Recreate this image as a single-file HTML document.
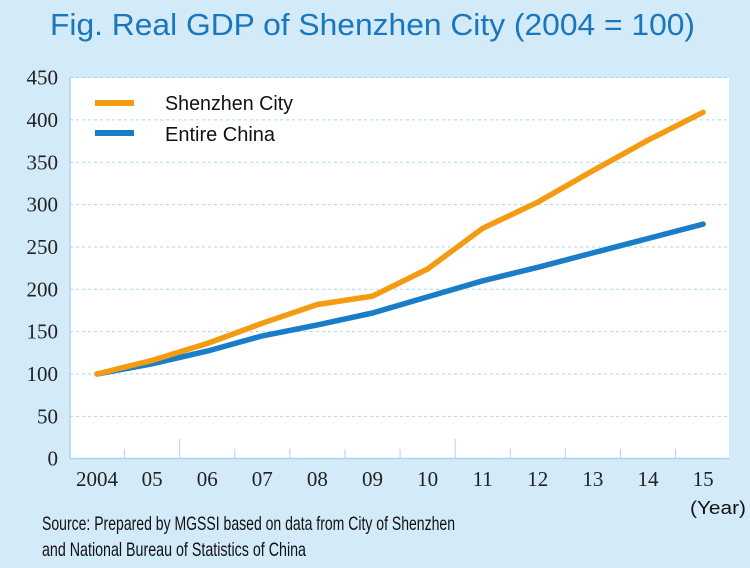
<!DOCTYPE html>
<html><head><meta charset="utf-8"><style>
html,body{margin:0;padding:0;background:#d3eaf8;}
svg{display:block;}
</style></head><body>
<svg id="chart" width="750" height="568" xmlns="http://www.w3.org/2000/svg">
<rect x="0" y="0" width="750" height="568" fill="#d3eaf8"/>
<text x="50" y="35" font-family="Liberation Sans, sans-serif" font-size="31" fill="#1877bd" textLength="645" lengthAdjust="spacingAndGlyphs">Fig. Real GDP of Shenzhen City  (2004 = 100)</text>
<rect x="70" y="78" width="659" height="380" fill="#ffffff"/>
<g id="grid"></g>
<g id="yticks"></g>
<g id="xticks"></g>
<g id="series"></g>
<line x1="70" y1="458.5" x2="729" y2="458.5" stroke="#a9d6f0" stroke-width="1.5"/>
<line x1="70" y1="78" x2="70" y2="458.5" stroke="#a9d6f0" stroke-width="1.5"/>
<g>
<line x1="95" y1="103" x2="134" y2="103" stroke="#f39c12" stroke-width="6"/>
<text x="165" y="110" font-family="Liberation Sans, sans-serif" font-size="20" fill="#111" textLength="128" lengthAdjust="spacingAndGlyphs">Shenzhen City</text>
<line x1="95" y1="133" x2="134" y2="133" stroke="#1a7dc7" stroke-width="6"/>
<text x="165" y="141" font-family="Liberation Sans, sans-serif" font-size="20" fill="#111" textLength="110" lengthAdjust="spacingAndGlyphs">Entire China</text>
</g>
<text x="690" y="514" font-family="Liberation Sans, sans-serif" font-size="18" fill="#111" textLength="56" lengthAdjust="spacingAndGlyphs">(Year)</text>
<text font-family="Liberation Sans, sans-serif" font-size="19.5" fill="#111">
<tspan x="42" y="530" textLength="413" lengthAdjust="spacingAndGlyphs">Source: Prepared by MGSSI based on data from City of Shenzhen</tspan>
<tspan x="42" y="556" textLength="264" lengthAdjust="spacingAndGlyphs">and National Bureau of Statistics of China</tspan>
</text>
</svg>
<script>
const years = ["2004","05","06","07","08","09","10","11","12","13","14","15"];
const shenzhen = [100,116,136,160,182,192,224,272,303,340,376,409];
const china = [100,112,127,145,158,172,191,210,226,243,260,277];
const yTicks = [0,50,100,150,200,250,300,350,400,450];

const NS="http://www.w3.org/2000/svg";
const X0=97, XSTEP=55.1, Y0=458.7, YSCALE=0.847;
function xs(i){return X0+i*XSTEP;}
function ys(v){return Y0-v*YSCALE;}
function mk(tag,attrs,parent){const e=document.createElementNS(NS,tag);for(const k in attrs)e.setAttribute(k,attrs[k]);parent.appendChild(e);return e;}

const grid=document.getElementById('grid'), yt=document.getElementById('yticks'), xt=document.getElementById('xticks'), ser=document.getElementById('series');
yTicks.forEach(v=>{
  if(v>0){
    const g=mk('line',{x1:70,x2:729,y1:ys(v),y2:ys(v),stroke:'#a9d6f0','stroke-width':1,'stroke-dasharray':'3,3'},grid);
    
    
  }
  const t=mk('text',{x:58,y:ys(v)+7,'text-anchor':'end','font-family':'Liberation Serif, serif','font-size':21,fill:'#222'},yt);
  t.textContent=v;
  
  
});
for(let k=1;k<years.length;k++){
  const x=xs(k)-XSTEP/2;
  const long=(k===2||k===7);
  const tk=mk('line',{x1:x,x2:x,y1:long?439:449,y2:458,stroke:'#a9d6f0','stroke-width':1},xt);
  
  
}
years.forEach((y,i)=>{
  const t=mk('text',{x:xs(i),y:486,'text-anchor':'middle','font-family':'Liberation Serif, serif','font-size':21,fill:'#222'},xt);
  t.textContent=y;
  
  
});
function path(vals){return vals.map((v,i)=>(i?'L':'M')+xs(i).toFixed(1)+','+ys(v).toFixed(1)).join(' ');}
const pc=mk('path',{d:path(china),fill:'none',stroke:'#1a7dc7','stroke-width':5.5,'stroke-linecap':'round','stroke-linejoin':'round'},ser);


const ps=mk('path',{d:path(shenzhen),fill:'none',stroke:'#f39c12','stroke-width':5.5,'stroke-linecap':'round','stroke-linejoin':'round'},ser);


</script>
</body></html>
